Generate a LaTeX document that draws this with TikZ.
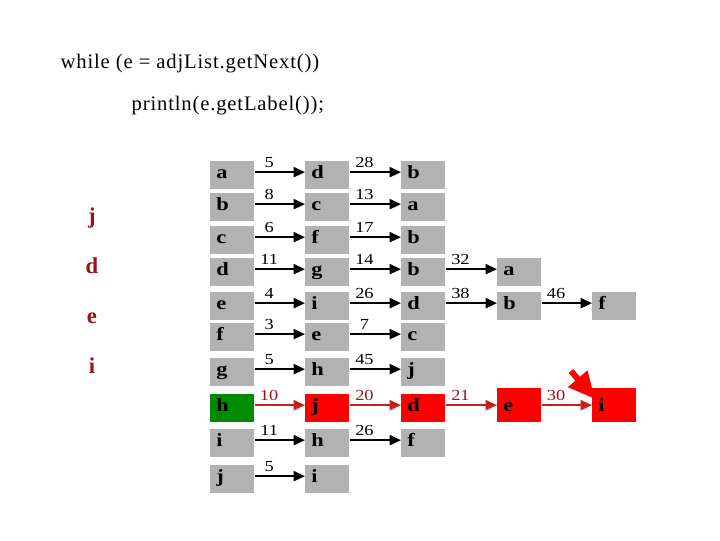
\documentclass[tikz,border=0pt]{standalone}
\usepackage{fontspec}
\setmainfont{Liberation Serif}
\newfontfamily\widefont{Liberation Serif}[FakeStretch=1.2]
\usetikzlibrary{arrows.meta}

\definecolor{cellgray}{RGB}{178,178,178}
\definecolor{hotred}{RGB}{255,0,0}
\definecolor{visgreen}{RGB}{0,140,0}
\definecolor{pathred}{RGB}{205,30,30}
\definecolor{maroon}{RGB}{155,20,20}

\begin{document}
\begin{tikzpicture}[
    x=0.75pt, y=-0.75pt,
    >={Triangle[length=8.5pt,width=7.5pt]},
    cell/.style={fill=cellgray, anchor=north west, minimum height=21pt,
        inner ysep=0pt, inner xsep=4.5pt, text width=24pt, align=left,
        text height=8.25pt, text depth=3.75pt,
        font=\widefont\fontsize{14}{15}\selectfont\bfseries},
    tall/.style={minimum height=25.5pt, text height=12.75pt},
    link/.style={->, line width=1.5pt},
    hot/.style={draw=pathred},
    wt/.style={above=2.5pt, pos=0.29, inner sep=0pt,
        font=\widefont\fontsize{11.5}{13}\selectfont},
    visit/.style={anchor=base, text=maroon, font=\fontsize{17}{19}\selectfont\bfseries},
    code/.style={anchor=base west, font=\addfontfeatures{LetterSpace=4}\fontsize{15.5}{18}\selectfont},
    pointer/.style={-{Triangle[length=20pt,width=18pt]}, line width=4.5pt, draw=hotred}
]
\useasboundingbox (0,0) rectangle (720,540);

% Code lines
\node[code] (loop) at (56,68) {while (e = adjList.getNext())};
\node[code] (body) at (127,110) {println(e.getLabel());};

% Visit order
\node[visit] (v1) at (92,223) {j};
\node[visit] (v2) at (92,273) {d};
\node[visit] (v3) at (92,323) {e};
\node[visit] (v4) at (92,373) {i};

% Adjacency lists
\node[cell] (a1) at (210,161) {a};
\node[cell] (a2) at (305,161) {d};
\node[cell] (a3) at (401,161) {b};

\node[cell] (b1) at (210,193) {b};
\node[cell] (b2) at (305,193) {c};
\node[cell] (b3) at (401,193) {a};

\node[cell] (c1) at (210,226) {c};
\node[cell] (c2) at (305,226) {f};
\node[cell] (c3) at (401,226) {b};

\node[cell] (d1) at (210,258) {d};
\node[cell] (d2) at (305,258) {g};
\node[cell] (d3) at (401,258) {b};
\node[cell] (d4) at (497,258) {a};

\node[cell] (e1) at (210,292) {e};
\node[cell] (e2) at (305,292) {i};
\node[cell] (e3) at (401,292) {d};
\node[cell] (e4) at (497,292) {b};
\node[cell] (e5) at (592,292) {f};

\node[cell] (f1) at (210,323) {f};
\node[cell] (f2) at (305,323) {e};
\node[cell] (f3) at (401,323) {c};

\node[cell] (g1) at (210,358) {g};
\node[cell] (g2) at (305,358) {h};
\node[cell] (g3) at (401,358) {j};

\node[cell, fill=visgreen] (h1) at (210,394) {h};
\node[cell, fill=hotred] (h2) at (305,394) {j};
\node[cell, fill=hotred] (h3) at (401,394) {d};
\node[cell, tall, fill=hotred] (h4) at (497,388) {e};
\node[cell, tall, fill=hotred] (h5) at (592,388) {i};

\node[cell] (i1) at (210,429) {i};
\node[cell] (i2) at (305,429) {h};
\node[cell] (i3) at (401,429) {f};

\node[cell] (j1) at (210,465) {j};
\node[cell] (j2) at (305,465) {i};

% Edges
\draw[link] (a1.8) -- node[wt]{5} (a2.172);
\draw[link] (a2.8) -- node[wt]{28} (a3.172);
\draw[link] (b1.8) -- node[wt]{8} (b2.172);
\draw[link] (b2.8) -- node[wt]{13} (b3.172);
\draw[link] (c1.8) -- node[wt]{6} (c2.172);
\draw[link] (c2.8) -- node[wt]{17} (c3.172);
\draw[link] (d1.8) -- node[wt]{11} (d2.172);
\draw[link] (d2.8) -- node[wt]{14} (d3.172);
\draw[link] (d3.8) -- node[wt]{32} (d4.172);
\draw[link] (e1.8) -- node[wt]{4} (e2.172);
\draw[link] (e2.8) -- node[wt]{26} (e3.172);
\draw[link] (e3.8) -- node[wt]{38} (e4.172);
\draw[link] (e4.8) -- node[wt]{46} (e5.172);
\draw[link] (f1.8) -- node[wt]{3} (f2.172);
\draw[link] (f2.8) -- node[wt]{7} (f3.172);
\draw[link] (g1.8) -- node[wt]{5} (g2.172);
\draw[link] (g2.8) -- node[wt]{45} (g3.172);
\draw[link, hot] (h1.8) -- node[wt, text=maroon]{10} (h2.172);
\draw[link, hot] (h2.8) -- node[wt, text=maroon]{20} (h3.172);
\draw[link, hot] (h3.8) -- node[wt, text=maroon]{21} (h3.8 -| h4.west);
\draw[link, hot] (h4.east |- h3.8) -- node[wt, text=maroon]{30} (h3.8 -| h5.west);
\draw[link] (i1.8) -- node[wt]{11} (i2.172);
\draw[link] (i2.8) -- node[wt]{26} (i3.172);
\draw[link] (j1.8) -- node[wt]{5} (j2.172);

% Current vertex
\coordinate (tail) at (571,371);
\draw[pointer] (tail) -- ([xshift=2.25pt,yshift=-8.25pt]h5.north west);

\end{tikzpicture}
\end{document}
